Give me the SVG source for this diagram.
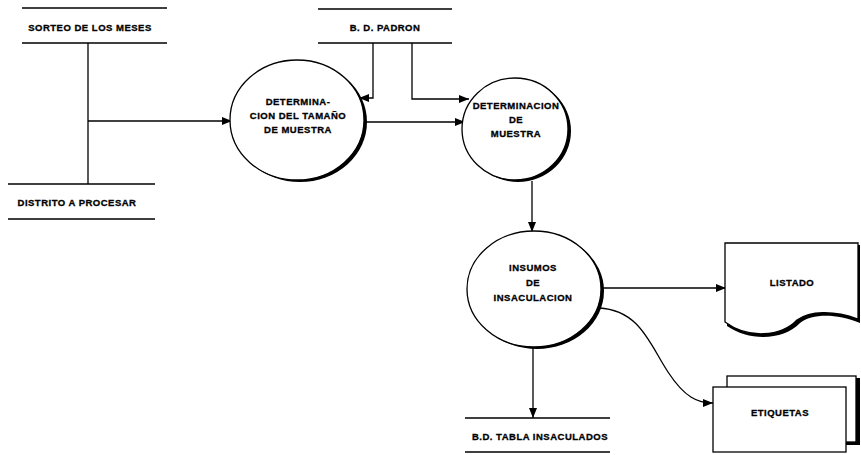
<svg xmlns="http://www.w3.org/2000/svg" width="861" height="455" viewBox="0 0 861 455">
<style>
text{font-family:"Liberation Sans",Arial,sans-serif;font-weight:bold;font-size:9.5px;letter-spacing:0.5px;fill:#000;stroke:#000;stroke-width:0.3;text-anchor:middle}
.ds{stroke:#000;stroke-width:1.6;fill:none}
.ln{stroke:#000;stroke-width:1.3;fill:none}
.proc{fill:#fff;stroke:#000;stroke-width:1.3}
.sh{fill:#000}
</style>
<defs>
<marker id="ah" markerWidth="10" markerHeight="8" refX="10" refY="4" orient="auto" markerUnits="userSpaceOnUse">
<path d="M0,0 L10,4 L0,8 Z" fill="#000"/>
</marker>
</defs>
<rect width="861" height="455" fill="#fff"/>

<g id="connectors">
<path class="ln" d="M88,43 V184"/>
<path class="ln" d="M88,121 H232" marker-end="url(#ah)"/>
<path class="ln" d="M373,43 V98 H359" marker-end="url(#ah)"/>
<path class="ln" d="M412,43 V99 H469" marker-end="url(#ah)"/>
<path class="ln" d="M364,122 H465" marker-end="url(#ah)"/>
<path class="ln" d="M532,181 V232" marker-end="url(#ah)"/>
<path class="ln" d="M602,288 H726" marker-end="url(#ah)"/>
<path class="ln" d="M599,308 C640,310 650,345 668,372 C685,398 698,403 713,403" marker-end="url(#ah)"/>
<path class="ln" d="M533,347 V418" marker-end="url(#ah)"/>
</g>

<g id="sorteo">
<path class="ds" d="M22,8 H167 M22,43 H167"/>
<text x="90" y="31">SORTEO DE LOS MESES</text>
</g>

<g id="distrito">
<path class="ds" d="M8,184 H155 M8,219 H155"/>
<text x="77" y="206">DISTRITO A PROCESAR</text>
</g>

<g id="padron">
<path class="ds" d="M318,9 H452 M318,43 H452"/>
<text x="385" y="31">B. D. PADRON</text>
</g>

<g id="tabla">
<path class="ds" d="M465,418 H610 M465,452 H610"/>
<text x="540" y="440">B.D. TABLA INSACULADOS</text>
</g>

<g id="p1">
<ellipse class="sh" cx="300" cy="122" rx="67" ry="60"/>
<ellipse class="proc" cx="297" cy="120" rx="67" ry="60"/>
<text x="298" y="105">DETERMINA-</text>
<text x="298" y="119">CION DEL TAMAÑO</text>
<text x="298" y="133">DE MUESTRA</text>
</g>

<g id="p2">
<ellipse class="sh" cx="518" cy="131" rx="53" ry="51"/>
<ellipse class="proc" cx="515" cy="129" rx="53" ry="51"/>
<text x="516" y="109">DETERMINACION</text>
<text x="516" y="123">DE</text>
<text x="516" y="137">MUESTRA</text>
</g>

<g id="p3">
<ellipse class="sh" cx="537" cy="291" rx="67" ry="58"/>
<ellipse class="proc" cx="534" cy="289" rx="67" ry="58"/>
<text x="533" y="271">INSUMOS</text>
<text x="533" y="286">DE</text>
<text x="533" y="301">INSACULACION</text>
</g>

<g id="listado">
<path class="sh" d="M727,245 L860,245 L860,323 C835,313 812,314 800,323 C784,340 750,342 727,326 Z"/>
<path class="proc" d="M725,243 L858,243 L858,319 C833,310 810,311 797,320 C781,337 748,339 725,322 Z"/>
<text x="792" y="286">LISTADO</text>
</g>

<g id="etiquetas">
<rect class="sh" x="730" y="378" width="130" height="67"/>
<rect class="proc" x="727" y="376" width="129" height="66"/>
<rect class="proc" x="713" y="387" width="133" height="65"/>
<text x="780" y="416">ETIQUETAS</text>
</g>
</svg>
